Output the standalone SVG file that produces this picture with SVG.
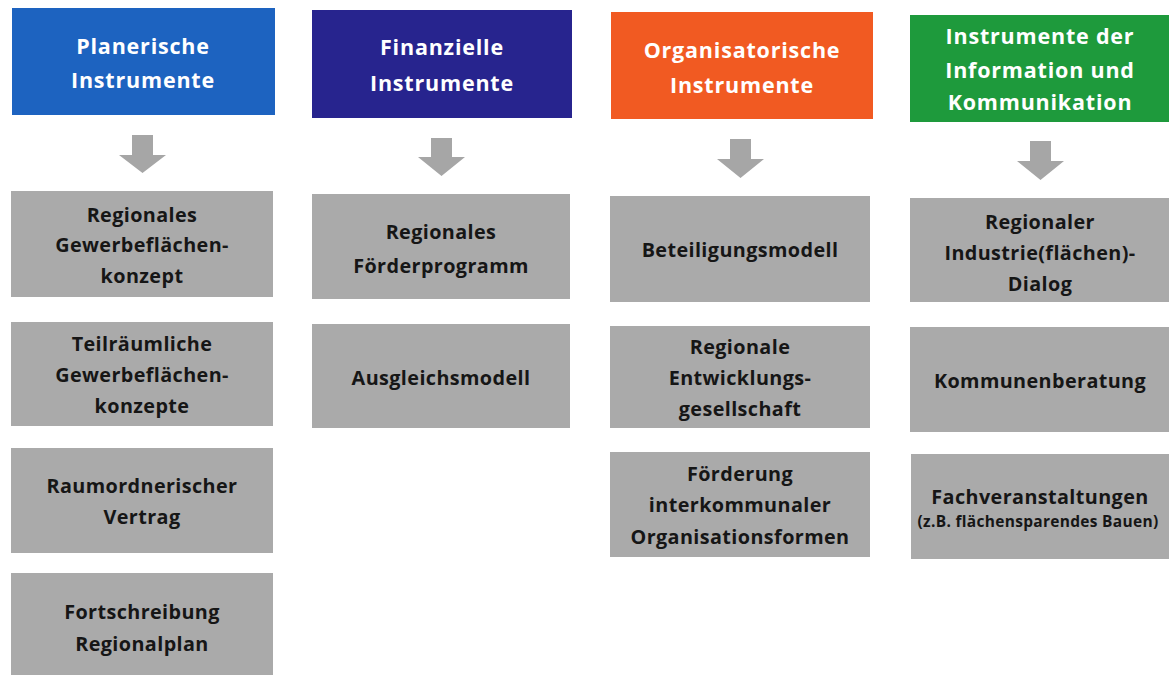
<svg xmlns="http://www.w3.org/2000/svg" width="1169" height="675" viewBox="0 0 1169 675">
<style>
.hd{font-family:"Open Sans","Liberation Sans",sans-serif;font-weight:bold;font-size:21.5px;fill:#ffffff;text-anchor:middle;letter-spacing:0.8px}
.bx{fill:#aaaaaa}
.tx{font-family:"Open Sans","Liberation Sans",sans-serif;font-weight:bold;font-size:19.8px;fill:#161616;text-anchor:middle;letter-spacing:0.4px}
.sm{font-family:"Open Sans","Liberation Sans",sans-serif;font-weight:bold;font-size:15.5px;fill:#161616;text-anchor:middle;letter-spacing:0.3px}
.ar{fill:#a6a6a6}
</style>
<rect width="1169" height="675" fill="#ffffff"/>

<g id="h1">
<rect x="12" y="8" width="263" height="107" fill="#1d63c0"/>
<text class="hd" x="143" y="54">Planerische</text>
<text class="hd" x="143" y="88">Instrumente</text>
</g>
<g id="h2">
<rect x="312" y="10" width="260" height="108" fill="#27248e"/>
<text class="hd" x="442" y="55">Finanzielle</text>
<text class="hd" x="442" y="91">Instrumente</text>
</g>
<g id="h3">
<rect x="611" y="12" width="262" height="107" fill="#f15a22"/>
<text class="hd" x="742" y="58">Organisatorische</text>
<text class="hd" x="742" y="93">Instrumente</text>
</g>
<g id="h4">
<rect x="910" y="15" width="260" height="107" fill="#1e9a3c"/>
<text class="hd" x="1040" y="44">Instrumente der</text>
<text class="hd" x="1040" y="78">Information und</text>
<text class="hd" x="1040" y="110">Kommunikation</text>
</g>

<g id="connectors">
<path class="ar" d="M132 135H153V155H166L142.5 173L119 155H132Z"/>
<path class="ar" d="M431 138H452V157H465L441.5 176L418 157H431Z"/>
<path class="ar" d="M730 139H751V159H764L740.5 178L717 159H730Z"/>
<path class="ar" d="M1030 141H1051V161H1064L1040.5 180L1017 161H1030Z"/>
</g>

<g id="c1b1">
<rect class="bx" x="11" y="191" width="262" height="106"/>
<text class="tx" x="142" y="222">Regionales</text>
<text class="tx" x="142" y="252">Gewerbeflächen-</text>
<text class="tx" x="142" y="283">konzept</text>
</g>
<g id="c1b2">
<rect class="bx" x="11" y="322" width="262" height="104"/>
<text class="tx" x="142" y="351">Teilräumliche</text>
<text class="tx" x="142" y="382">Gewerbeflächen-</text>
<text class="tx" x="142" y="413">konzepte</text>
</g>
<g id="c1b3">
<rect class="bx" x="11" y="448" width="262" height="105"/>
<text class="tx" x="142" y="493">Raumordnerischer</text>
<text class="tx" x="142" y="524">Vertrag</text>
</g>
<g id="c1b4">
<rect class="bx" x="11" y="573" width="262" height="110"/>
<text class="tx" x="142" y="619">Fortschreibung</text>
<text class="tx" x="142" y="651">Regionalplan</text>
</g>

<g id="c2b1">
<rect class="bx" x="312" y="194" width="258" height="105"/>
<text class="tx" x="441" y="239">Regionales</text>
<text class="tx" x="441" y="273">Förderprogramm</text>
</g>
<g id="c2b2">
<rect class="bx" x="312" y="324" width="258" height="104"/>
<text class="tx" x="441" y="385">Ausgleichsmodell</text>
</g>

<g id="c3b1">
<rect class="bx" x="610" y="196" width="260" height="106"/>
<text class="tx" x="740" y="257">Beteiligungsmodell</text>
</g>
<g id="c3b2">
<rect class="bx" x="610" y="326" width="260" height="102"/>
<text class="tx" x="740" y="354">Regionale</text>
<text class="tx" x="740" y="385">Entwicklungs-</text>
<text class="tx" x="740" y="416">gesellschaft</text>
</g>
<g id="c3b3">
<rect class="bx" x="610" y="452" width="260" height="105"/>
<text class="tx" x="740" y="481">Förderung</text>
<text class="tx" x="740" y="512">interkommunaler</text>
<text class="tx" x="740" y="544">Organisationsformen</text>
</g>

<g id="c4b1">
<rect class="bx" x="910" y="198" width="260" height="104"/>
<text class="tx" x="1040" y="229">Regionaler</text>
<text class="tx" x="1040" y="260">Industrie(flächen)-</text>
<text class="tx" x="1040" y="291">Dialog</text>
</g>
<g id="c4b2">
<rect class="bx" x="910" y="327" width="260" height="105"/>
<text class="tx" x="1040" y="388">Kommunenberatung</text>
</g>
<g id="c4b3">
<rect class="bx" x="911" y="454" width="259" height="105"/>
<text class="tx" x="1040" y="504">Fachveranstaltungen</text>
<text class="sm" x="1038" y="527">(z.B. flächensparendes Bauen)</text>
</g>
</svg>
